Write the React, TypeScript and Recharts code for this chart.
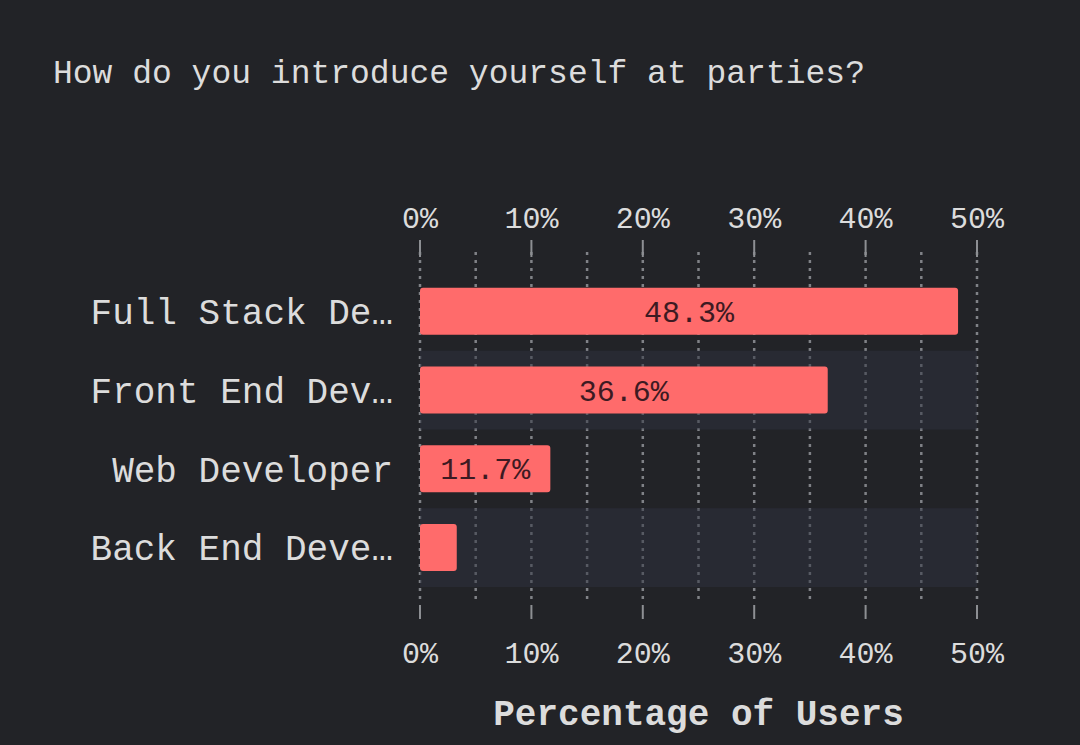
import React from 'react';
import { BarChart, Bar, XAxis, YAxis, CartesianGrid, ReferenceArea, LabelList } from 'recharts';

const categories = ['Full Stack Developer', 'Front End Developer', 'Web Developer', 'Back End Developer'];
const percentages = [48.3, 36.6, 11.7, 3.3];
const tickValues = [0, 5, 10, 15, 20, 25, 30, 35, 40, 45, 50];
const stripedCategories = ['Front End Developer', 'Back End Developer'];
const titleText = 'How do you introduce yourself at parties?';
const axisTitle = 'Percentage of Users';

const data = categories.map((name, i) => ({ name, value: percentages[i] }));

const FONT = '"Liberation Mono", monospace';
const BG = '#222327';
const BAR = '#ff6b6b';
const TEXT = '#dcdcdc';

function TopTick(props: any) {
  const { x, y, payload } = props;
  const v = payload.value;
  if (v % 10 !== 0) return <g />;
  return (
    <g>
      <line x1={x} x2={x} y1={y - 12} y2={y + 5} stroke="#8d8f93" strokeWidth={2} />
      <text x={x} y={y - 24} textAnchor="middle" fill={TEXT} fontSize={30} fontFamily={FONT}>
        {v}%
      </text>
    </g>
  );
}

function BottomTick(props: any) {
  const { x, y, payload } = props;
  const v = payload.value;
  if (v % 10 !== 0) return <g />;
  return (
    <g>
      <line x1={x} x2={x} y1={y + 2} y2={y + 16} stroke="#8d8f93" strokeWidth={2} />
      <text x={x} y={y + 60} textAnchor="middle" fill={TEXT} fontSize={30} fontFamily={FONT}>
        {v}%
      </text>
    </g>
  );
}

const truncate = (s: string) => (s.length > 13 ? s.slice(0, 13) + '…' : s);

export default function App() {
  return (
    <div style={{ position: 'relative', width: 1080, height: 745, background: BG }}>
      <style>{`body{margin:0;background:${BG};}`}</style>
      <div
        style={{
          position: 'absolute',
          left: 53,
          top: 55,
          fontFamily: FONT,
          fontSize: 33,
          lineHeight: '40px',
          color: TEXT,
          whiteSpace: 'pre',
        }}
      >
        {titleText}
      </div>
      <BarChart
        width={1080}
        height={745}
        data={data}
        layout="vertical"
        margin={{ top: 0, right: 103, bottom: 0, left: 0 }}
        barCategoryGap="20%"
      >
        {stripedCategories.map((c) => (
          <ReferenceArea
            key={c}
            xAxisId="top"
            y1={c}
            y2={c}
            fill="#2e3240"
            fillOpacity={0.5}
            stroke="none"
          />
        ))}
        <CartesianGrid
          xAxisId="top"
          horizontal={false}
          stroke="#808287"
          strokeDasharray="3 5"
          strokeWidth={2.5}
        />
        <XAxis
          xAxisId="top"
          orientation="top"
          type="number"
          domain={[0, 50]}
          allowDataOverflow
          ticks={tickValues}
          interval={0}
          height={252}
          axisLine={false}
          tickLine={false}
          tickSize={0}
          tickMargin={0}
          tick={<TopTick />}
        />
        <XAxis
          xAxisId="bottom"
          orientation="bottom"
          type="number"
          domain={[0, 50]}
          allowDataOverflow
          ticks={tickValues}
          interval={0}
          height={142}
          axisLine={false}
          tickLine={false}
          tickSize={0}
          tickMargin={0}
          tick={<BottomTick />}
          label={{
            value: axisTitle,
            position: 'insideBottom',
            offset: 20,
            fill: TEXT,
            fontSize: 36,
            fontWeight: 'bold',
            fontFamily: FONT,
          }}
        />
        <YAxis
          type="category"
          dataKey="name"
          width={420}
          interval={0}
          axisLine={false}
          tickLine={false}
          tickSize={0}
          tickMargin={27}
          padding={{ top: 20, bottom: 16 }}
          tickFormatter={truncate}
          tick={{ fill: TEXT, fontSize: 36, fontFamily: FONT }}
        />
        <Bar dataKey="value" xAxisId="top" fill={BAR} radius={3} isAnimationActive={false}>
          <LabelList
            dataKey="value"
            position="center"
            fill="#3d1a22"
            fontSize={30}
            fontFamily={FONT}
            formatter={(v: any) => (Number(v) >= 5 ? `${Number(v).toFixed(1)}%` : '')}
          />
        </Bar>
      </BarChart>
    </div>
  );
}
